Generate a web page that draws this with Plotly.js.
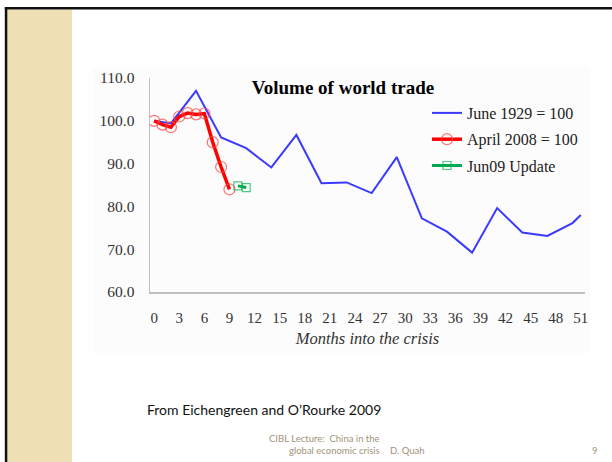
<!DOCTYPE html>
<html>
<head>
<meta charset="utf-8">
<script src="https://cdn.plot.ly/plotly-3.0.1.min.js"></script>
<style>
html,body{margin:0;padding:0;background:#fff;}
#chart{width:612px;height:462px;}
</style>
</head>
<body>
<div id="chart"></div>
<script>
// ---- data ----
var months1929 = [0, 2, 5, 8, 11, 14, 17, 20, 23, 26, 29, 32, 35, 38, 41, 44, 47, 50, 51];
var trade1929  = [100, 99.4, 107.0, 96.1, 93.6, 89.1, 96.7, 85.4, 85.6, 83.1, 91.5, 77.2, 74.1, 69.2, 79.6, 73.9, 73.1, 76.1, 78.0];
var months2008 = [0, 1, 2, 3, 4, 5, 6, 7, 8, 9];
var trade2008  = [100, 99.1, 98.5, 101.0, 101.8, 101.5, 101.7, 95.0, 89.2, 84.0];
var monthsJun09 = [10, 11];
var tradeJun09  = [84.8, 84.4];
var seriesNames = ["June 1929 = 100", "April 2008 = 100", "Jun09 Update"];
var xTicks = [0, 3, 6, 9, 12, 15, 18, 21, 24, 27, 30, 33, 36, 39, 42, 45, 48, 51];
var yTicks = [60, 70, 80, 90, 100, 110];

// plot area in pixels: x 150..585, y 78..292
var L = 150, R = 585, T = 78, B = 292;
function px(x){ return (x - L) / (R - L); }
function py(y){ return (B - y) / (B - T); }

var serif = "Liberation Serif, Times New Roman, serif";

var traces = [
  {x: months1929, y: trade1929, name: seriesNames[0], type: "scatter", mode: "lines",
   line: {color: "#3a3aff", width: 2}, legendgroup: "a"},
  {x: months2008, y: trade2008, name: seriesNames[1], type: "scatter", mode: "lines+markers",
   line: {color: "#ff0000", width: 3.5},
   marker: {symbol: "circle-open", size: 11, color: "rgba(255,70,70,0.75)", line: {width: 1.2, color: "rgba(255,70,70,0.75)"}},
   legendgroup: "b"},
  {x: monthsJun09, y: tradeJun09, name: seriesNames[2], type: "scatter", mode: "lines+markers",
   line: {color: "#00a84f", width: 3},
   marker: {symbol: "square-open", size: 8, color: "rgba(0,176,80,0.7)", line: {width: 1.2, color: "rgba(0,176,80,0.7)"}},
   legendgroup: "c"}
];

var footColor = "#a09478";
var layout = {
  width: 612, height: 462,
  margin: {l: L, r: 612 - R, t: T, b: 462 - B, pad: 0},
  paper_bgcolor: "rgba(0,0,0,0)",
  plot_bgcolor: "rgba(0,0,0,0)",
  showlegend: true,
  legend: {x: px(427), y: py(96), xanchor: "left", yanchor: "top",
           bgcolor: "rgba(0,0,0,0)", borderwidth: 0, tracegroupgap: 2.5,
           font: {family: serif, size: 16, color: "#222"}, itemwidth: 30},
  title: {text: "<b>Volume of world trade</b>", x: px(343), xref: "paper", xanchor: "center",
          y: 1 - 87/462, yref: "container", yanchor: "middle",
          font: {family: serif, size: 19, color: "#000"}},
  xaxis: {range: [-0.5, 51.5], tickvals: xTicks, ticktext: xTicks.map(String),
          showgrid: false, zeroline: false, showline: true, linecolor: "#bfbfbf", linewidth: 1.5,
          ticks: "outside", ticklen: 11, tickcolor: "rgba(0,0,0,0)",
          tickfont: {family: serif, size: 15, color: "#333"},
          title: {text: "Months into the crisis", standoff: 8,
                  font: {family: serif, size: 16.5, color: "#333", style: "italic"}},
          automargin: false, fixedrange: true},
  yaxis: {range: [60, 110], tickvals: yTicks, tickformat: ".1f",
          showgrid: false, zeroline: false, showline: true, linecolor: "#bfbfbf", linewidth: 1.5,
          ticks: "outside", ticklen: 11, tickcolor: "rgba(0,0,0,0)",
          tickfont: {family: serif, size: 15.5, color: "#333"},
          automargin: false, fixedrange: true},
  shapes: [
    // chart background
    {type: "rect", xref: "paper", yref: "paper", layer: "below",
     x0: px(93), x1: px(590), y0: py(353), y1: py(68), fillcolor: "#fcfcfc", line: {width: 0}},
    // beige strip
    {type: "rect", xref: "paper", yref: "paper", layer: "below",
     x0: px(7), x1: px(72), y0: py(462), y1: py(9.5), fillcolor: "#efdfb5", line: {width: 0}},
    // left border
    {type: "rect", xref: "paper", yref: "paper", layer: "below",
     x0: px(4.8), x1: px(7.3), y0: py(462), y1: py(7), fillcolor: "#111", line: {width: 0}},
    // top border
    {type: "rect", xref: "paper", yref: "paper", layer: "below",
     x0: px(4.8), x1: px(612), y0: py(9.6), y1: py(7), fillcolor: "#111", line: {width: 0}}
  ],
  annotations: [
    {text: "From Eichengreen and O\u2019Rourke 2009", xref: "paper", yref: "paper",
     x: px(145), y: py(409), xanchor: "left", yanchor: "middle", showarrow: false,
     font: {family: "Lato, Open Sans, sans-serif", size: 14, color: "#111"}},
    {text: "CIBL Lecture:  China in the", xref: "paper", yref: "paper",
     x: px(382), y: py(438), xanchor: "right", yanchor: "middle", showarrow: false,
     font: {family: "Lato, sans-serif", size: 9.5, color: footColor}},
    {text: "global economic crisis", xref: "paper", yref: "paper",
     x: px(382), y: py(450), xanchor: "right", yanchor: "middle", showarrow: false,
     font: {family: "Lato, sans-serif", size: 9.5, color: footColor}},
    {text: "D. Quah", xref: "paper", yref: "paper",
     x: px(388), y: py(450), xanchor: "left", yanchor: "middle", showarrow: false,
     font: {family: "Lato, sans-serif", size: 9.5, color: footColor}},
    {text: "9", xref: "paper", yref: "paper",
     x: px(595), y: py(450), xanchor: "center", yanchor: "middle", showarrow: false,
     font: {family: "Lato, sans-serif", size: 9.5, color: footColor}}
  ]
};

Plotly.newPlot("chart", traces, layout, {staticPlot: true, displayModeBar: false});
</script>
</body>
</html>
